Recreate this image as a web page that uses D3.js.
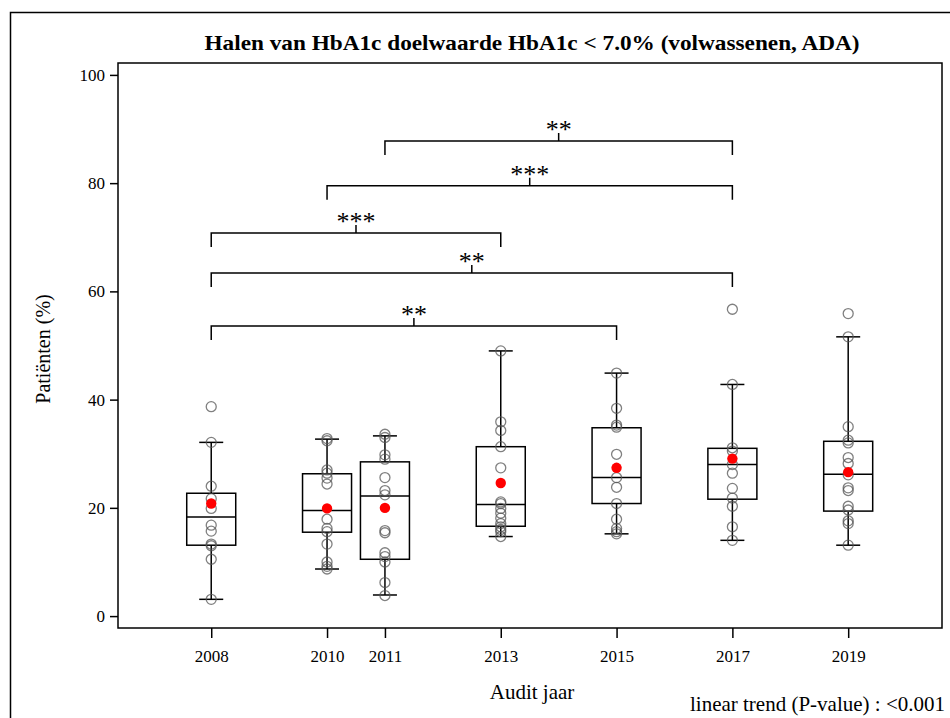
<!DOCTYPE html>
<html>
<head>
<meta charset="utf-8">
<script src="https://cdn.jsdelivr.net/npm/d3@7"></script>
<style>
	body { margin: 0; background: #fff; }
	text { font-family: "Liberation Serif", "DejaVu Serif", serif; fill: #000; }
</style>
</head>
<body>
<div id="chart"></div>
<script>
// Audit years
var years = [2008, 2010, 2011, 2013, 2015, 2017, 2019];
// Box statistics per year
var q1 = [13.1, 15.5, 10.5, 16.6, 20.8, 21.6, 19.4];
var medians = [18.3, 19.5, 22.2, 20.6, 25.6, 28.0, 26.2];
var q3 = [22.7, 26.3, 28.5, 31.3, 34.8, 31.0, 32.3];
var whiskLow = [3.1, 8.7, 3.9, 14.7, 15.2, 14.0, 13.1];
var whiskHigh = [32.1, 32.7, 33.3, 49.0, 44.9, 42.8, 51.6];
var means = [20.8, 19.9, 20.0, 24.6, 27.4, 29.1, 26.6];
// Individual centre values per year
var points = [
	[38.7, 32.1, 24.0, 21.7, 19.9, 16.8, 15.7, 13.3, 13.0, 10.5, 3.1],
	[32.8, 32.4, 27.0, 26.4, 25.5, 24.4, 17.9, 16.2, 15.6, 13.3, 10.0, 9.2, 8.7],
	[33.6, 33.0, 29.8, 29.0, 25.6, 23.2, 22.4, 15.8, 15.4, 11.7, 11.0, 10.0, 6.2, 3.8],
	[49.0, 35.9, 34.3, 31.3, 27.4, 21.1, 20.8, 19.9, 19.0, 18.1, 17.1, 16.5, 16.0, 15.6, 14.7],
	[44.9, 38.4, 35.3, 34.9, 29.9, 25.6, 23.8, 20.8, 17.9, 16.2, 15.6, 15.2],
	[56.7, 42.8, 31.1, 30.5, 28.0, 26.4, 23.6, 21.8, 20.3, 16.5, 14.0],
	[55.9, 51.6, 35.0, 32.5, 32.0, 29.3, 28.2, 26.1, 23.7, 23.2, 20.3, 19.6, 17.6, 17.1, 13.1]
];
// Significance brackets: from year, to year, height, label
var sigFrom = [2011, 2010, 2008, 2008, 2008];
var sigTo = [2017, 2017, 2013, 2017, 2015];
var sigLevel = [87.8, 79.5, 70.8, 63.4, 53.6];
var sigLabel = ["**", "***", "***", "**", "**"];
var yTicks = [0, 20, 40, 60, 80, 100];

var width = 950, height = 718;
var margin = {left: 118, right: 8, top: 63, bottom: 90};

var svg = d3.select("#chart").append("svg")
	.attr("width", width)
	.attr("height", height);

// Outer frame
svg.append("rect")
	.attr("x", 10.5).attr("y", 12.5)
	.attr("width", 1000).attr("height", 1000)
	.attr("fill", "none").attr("stroke", "#000").attr("stroke-width", 1.5);

var x = d3.scaleLinear()
	.domain([2006.39, 2020.62])
	.range([margin.left, width - margin.right]);
var y = d3.scaleLinear()
	.domain([-2.2, 102.2])
	.range([height - margin.bottom, margin.top]);

// Plot frame
svg.append("rect")
	.attr("x", margin.left).attr("y", margin.top)
	.attr("width", width - margin.right - margin.left)
	.attr("height", height - margin.bottom - margin.top)
	.attr("fill", "none").attr("stroke", "#000").attr("stroke-width", 1.5);

// Axes
var yAxis = svg.append("g")
	.attr("transform", "translate(" + margin.left + ",0)")
	.call(d3.axisLeft(y).tickValues(yTicks).tickSize(8).tickPadding(5));
var xAxis = svg.append("g")
	.attr("transform", "translate(0," + (height - margin.bottom) + ")")
	.call(d3.axisBottom(x).tickValues(years).tickFormat(d3.format("d")).tickSize(10).tickPadding(12));
[yAxis, xAxis].forEach(function(ax){
	ax.select(".domain").remove();
	ax.selectAll("line").attr("stroke", "#000").attr("stroke-width", 1.5);
	ax.selectAll("text").style("font-family", "'Liberation Serif', serif").style("font-size", "17px").attr("fill", "#000");
});

var boxW = 49, capW = 24;
var g = svg.append("g");
years.forEach(function(yr, i){
	var cx = x(yr);
	// whiskers
	g.append("line").attr("x1", cx).attr("x2", cx)
		.attr("y1", y(whiskLow[i])).attr("y2", y(whiskHigh[i]))
		.attr("stroke", "#000").attr("stroke-width", 1.5);
	[whiskLow[i], whiskHigh[i]].forEach(function(v){
		g.append("line").attr("x1", cx - capW / 2).attr("x2", cx + capW / 2)
			.attr("y1", y(v)).attr("y2", y(v))
			.attr("stroke", "#000").attr("stroke-width", 1.5);
	});
	// box
	g.append("rect")
		.attr("x", cx - boxW / 2).attr("y", y(q3[i]))
		.attr("width", boxW).attr("height", y(q1[i]) - y(q3[i]))
		.attr("fill", "#fff").attr("stroke", "#000").attr("stroke-width", 1.5);
	g.append("line").attr("x1", cx - boxW / 2).attr("x2", cx + boxW / 2)
		.attr("y1", y(medians[i])).attr("y2", y(medians[i]))
		.attr("stroke", "#000").attr("stroke-width", 1.5);
	// points
	g.selectAll(null).data(points[i]).enter().append("circle")
		.attr("cx", cx).attr("cy", function(d){ return y(d); })
		.attr("r", 5)
		.attr("fill", "none").attr("stroke", "#555").attr("stroke-opacity", 0.75).attr("stroke-width", 1.3);
	// mean
	g.append("circle").attr("cx", cx).attr("cy", y(means[i])).attr("r", 5.2).attr("fill", "#f00");
});

// Significance brackets
sigLabel.forEach(function(lbl, i){
	var x1 = x(sigFrom[i]), x2 = x(sigTo[i]), yy = y(sigLevel[i]), xm = (x1 + x2) / 2;
	g.append("path")
		.attr("d", "M" + x1 + "," + (yy + 14) + "V" + yy + "H" + x2 + "V" + (yy + 14) + "M" + xm + "," + yy + "V" + (yy - 8))
		.attr("fill", "none").attr("stroke", "#000").attr("stroke-width", 1.5);
	svg.append("text").attr("x", xm).attr("y", yy - 3)
		.attr("text-anchor", "middle").style("font-size", "26px").text(lbl);
});

// Titles
svg.append("text").attr("x", 532).attr("y", 50)
	.attr("text-anchor", "middle").style("font-size", "22px").style("font-weight", "bold")
	.attr("textLength", 655).attr("lengthAdjust", "spacingAndGlyphs")
	.text("Halen van HbA1c doelwaarde HbA1c < 7.0% (volwassenen, ADA)");
svg.append("text").attr("transform", "translate(50,349) rotate(-90)")
	.attr("text-anchor", "middle").style("font-size", "20px").text("Patiënten (%)");
svg.append("text").attr("x", 532).attr("y", 699)
	.attr("text-anchor", "middle").style("font-size", "21px").text("Audit jaar");
svg.append("text").attr("x", 945).attr("y", 711)
	.attr("text-anchor", "end").style("font-size", "21px").text("linear trend (P-value) : <0.001");
</script>
</body>
</html>
